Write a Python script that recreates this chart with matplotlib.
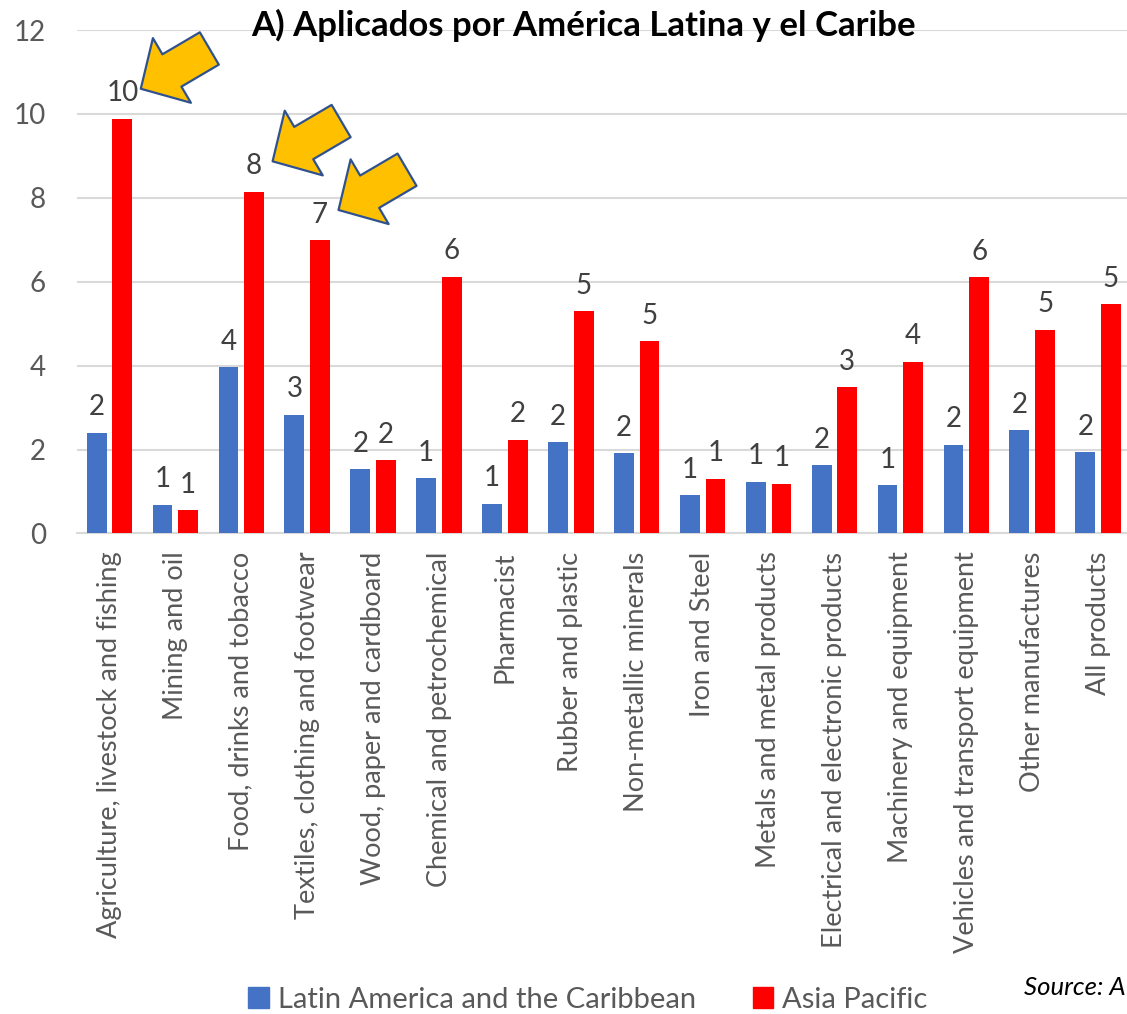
import numpy as np
import matplotlib
matplotlib.use("Agg")
import matplotlib.pyplot as plt
from matplotlib.patches import Patch

plt.rcParams['font.family'] = ['Lato', 'DejaVu Sans']

# chart data
categories = [
    "Agriculture, livestock and fishing", "Mining and oil", "Food, drinks and tobacco",
    "Textiles, clothing and footwear", "Wood, paper and cardboard", "Chemical and petrochemical",
    "Pharmacist", "Rubber and plastic", "Non-metallic minerals", "Iron and Steel",
    "Metals and metal products", "Electrical and electronic products", "Machinery and equipment",
    "Vehicles and transport equipment", "Other manufactures", "All products",
]
latam = [2.40, 0.68, 3.96, 2.83, 1.53, 1.32, 0.71, 2.17, 1.91, 0.91, 1.23, 1.62, 1.15, 2.11, 2.46, 1.94]
asia = [9.88, 0.55, 8.15, 6.99, 1.74, 6.12, 2.23, 5.30, 4.58, 1.31, 1.18, 3.48, 4.09, 6.11, 4.85, 5.46]
series_names = ["Latin America and the Caribbean", "Asia Pacific"]
highlighted = [0, 2, 3]  # categories marked with arrows

blue = "#4472C4"
red = "#FF0000"

fig = plt.figure(figsize=(11.27, 10.14), dpi=100)
ax = fig.add_axes([0.0679, 0.4739, 0.9357, 0.4965])

x = np.arange(len(categories))
w = 0.30
off = 0.195
b1 = ax.bar(x - off, latam, w, color=blue, zorder=3)
b2 = ax.bar(x + off, asia, w, color=red, zorder=3)

ax.bar_label(b1, fmt='%.0f', padding=9, fontsize=20, color='#404040')
ax.bar_label(b2, fmt='%.0f', padding=9, fontsize=20, color='#404040')

ax.set_xlim(-0.5, len(categories) - 0.5)
ax.set_ylim(0, 12)
ax.set_yticks(np.arange(0, 13, 2))
ax.yaxis.grid(True, color='#d9d9d9', linewidth=1.5, zorder=0)
ax.set_axisbelow(True)
for s in ['top', 'right', 'left']:
    ax.spines[s].set_visible(False)
ax.spines['bottom'].set_color('#d9d9d9')
ax.spines['bottom'].set_linewidth(1.5)

ax.set_xticks(x)
ax.set_xticklabels(categories, rotation=90, fontsize=19.5, color='#595959')
ax.tick_params(axis='x', length=0, pad=13)
ax.tick_params(axis='y', length=0, pad=22, labelsize=20, labelcolor='#595959')

# yellow block arrows pointing at the highlighted labels
for i in highlighted:
    tip = (i + off + 0.28, asia[i] + 0.72)
    tail = (i + off + 1.32, asia[i] + 1.68)
    ax.annotate('', xy=tip, xytext=tail, annotation_clip=False,
                arrowprops=dict(arrowstyle='simple,head_length=2.6,head_width=5.4,tail_width=2.7',
                                mutation_scale=10, fc='#FFC000', ec='#2F528F', lw=1.6,
                                shrinkA=0, shrinkB=0), zorder=5)

fig.text(0.518, 0.975, "A) Aplicados por América Latina y el Caribe",
         ha='center', va='center', fontsize=25, fontweight='bold', color='black')

handles = [Patch(color=blue), Patch(color=red)]
fig.legend(handles, series_names, loc='center', bbox_to_anchor=(0.5217, 0.014),
           ncol=2, frameon=False, fontsize=21, handlelength=0.7, handleheight=0.7,
           handletextpad=0.3, columnspacing=1.96, labelcolor='#595959')

fig.text(0.909, 0.026, "Source: A", ha='left', va='center', fontsize=18.5,
         style='italic', color='black')

fig.savefig("out.png", dpi=100)
